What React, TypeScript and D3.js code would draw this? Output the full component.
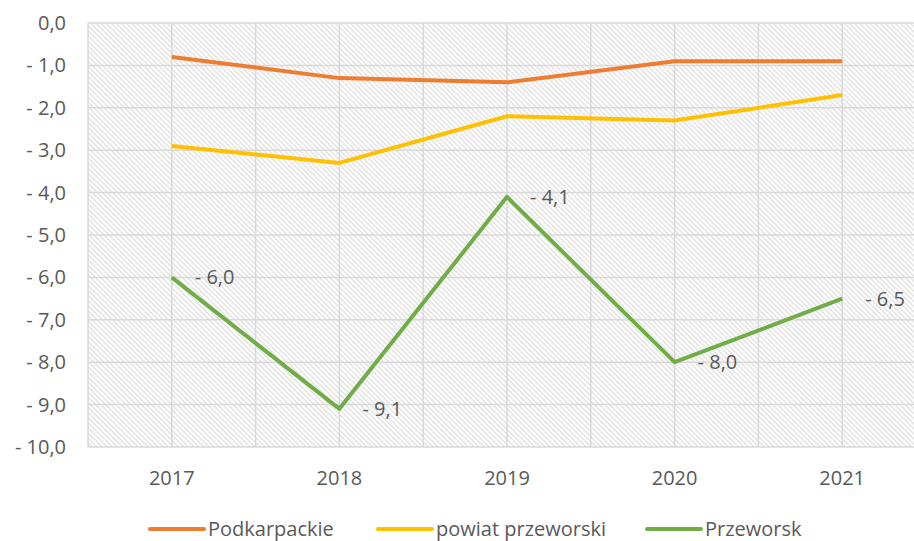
import React from 'react';
import * as d3 from 'd3';

const years = ['2017', '2018', '2019', '2020', '2021'];
const podkarpackie = [-0.8, -1.3, -1.4, -0.9, -0.9];
const powiat = [-2.9, -3.3, -2.2, -2.3, -1.7];
const przeworsk = [-6.0, -9.1, -4.1, -8.0, -6.5];
const yTicks = [0, -1, -2, -3, -4, -5, -6, -7, -8, -9, -10];

const series = [
  { name: 'Podkarpackie', values: podkarpackie, color: '#ED7D31', labels: false },
  { name: 'powiat przeworski', values: powiat, color: '#FFC000', labels: false },
  { name: 'Przeworsk', values: przeworsk, color: '#70AD47', labels: true },
];

const fmt = (v: number) => {
  const s = Math.abs(v).toFixed(1).replace('.', ',');
  return v < 0 ? `- ${s}` : s;
};

const W = 914;
const H = 541;
const margin = { top: 23, right: -12, bottom: 94, left: 88 };
const textColor = '#595959';
const font = '"Open Sans", sans-serif';
const fs = 20;

const App: React.FC = () => {
  const x = d3.scalePoint<string>()
    .domain(years)
    .range([margin.left, W - margin.right])
    .padding(0.5);
  const step = x.step();
  const y = d3.scaleLinear().domain([-10, 0]).range([H - margin.bottom, margin.top]);

  const line = d3.line<number>()
    .x((_, i) => x(years[i]) as number)
    .y(d => y(d));

  // vertical grid every half category
  const vGrid = d3.range(0, years.length * 2 + 1).map(i => margin.left + i * step / 2);

  const legendItems = [
    { x0: 150, ...series[0] },
    { x0: 378, ...series[1] },
    { x0: 647, ...series[2] },
  ];

  return (
    <svg width={W} height={H} style={{ position: 'absolute', left: 0, top: 0 }} fontFamily={font}>
      <defs>
        <pattern id="hatch" width="3.6" height="3.6" patternUnits="userSpaceOnUse" patternTransform="rotate(-45)">
          <line x1="1" y1="0" x2="1" y2="3.6" stroke="#dedede" strokeWidth="1.3" />
        </pattern>
      </defs>
      <rect x={margin.left} y={margin.top} width={W - margin.left - margin.right} height={y(-10) - margin.top} fill="url(#hatch)" />
      {yTicks.map(t => (
        <line key={t} x1={margin.left} x2={W - margin.right} y1={y(t)} y2={y(t)} stroke="#d9d9d9" strokeWidth={1.5} />
      ))}
      {vGrid.map(g => (
        <line key={g} x1={g} x2={g} y1={margin.top} y2={y(-10)} stroke="#d9d9d9" strokeWidth={1.5} />
      ))}
      {yTicks.map(t => (
        <text key={t} x={66} y={y(t)} dy="0.35em" textAnchor="end" fontSize={fs} fill={textColor}>{fmt(t)}</text>
      ))}
      {years.map(yr => (
        <text key={yr} x={x(yr)} y={485} textAnchor="middle" fontSize={fs} fill={textColor}>{yr}</text>
      ))}
      {series.map(s => (
        <path key={s.name} d={line(s.values) || ''} fill="none" stroke={s.color} strokeWidth={4} strokeLinejoin="round" />
      ))}
      {series.filter(s => s.labels).map(s => s.values.map((v, i) => (
        <text key={s.name + i} x={(x(years[i]) as number) + 23} y={y(v)} dy="0.35em" fontSize={fs} fill={textColor}>{fmt(v)}</text>
      )))}
      {legendItems.map(l => (
        <g key={l.name}>
          <line x1={l.x0} x2={l.x0 + 54} y1={529} y2={529} stroke={l.color} strokeWidth={4} strokeLinecap="round" />
          <text x={l.x0 + 58} y={529} dy="0.35em" fontSize={fs} fill={textColor}>{l.name}</text>
        </g>
      ))}
    </svg>
  );
};

export default App;
